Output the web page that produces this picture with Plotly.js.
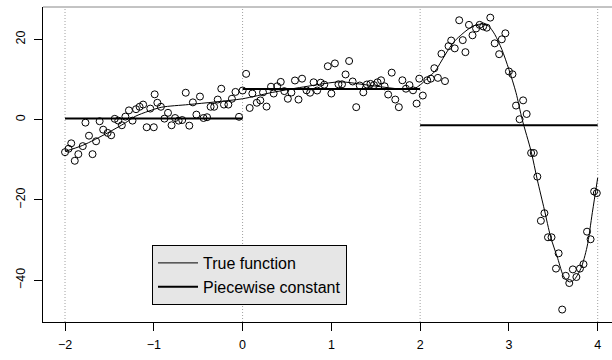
<!DOCTYPE html>
<html><head><meta charset="utf-8">
<script src="https://cdn.plot.ly/plotly-3.0.1.min.js"></script>
<style>html,body{margin:0;padding:0;overflow:hidden;background:#fff}#chart{width:619px;height:360px}</style>
</head><body><div id="chart"></div>
<script>
// Observed points
const obsX = [
 -2.00,-1.96,-1.93,-1.89,-1.85,-1.80,-1.77,-1.73,-1.69,-1.65,-1.61,-1.57,-1.52,-1.48,-1.44,-1.40,-1.36,-1.32,-1.28,-1.24,-1.20,-1.16,-1.12,-1.08,-1.04,-1.00,-0.99,-0.96,-0.92,-0.88,-0.84,-0.80,-0.76,-0.72,-0.68,-0.64,-0.60,-0.56,-0.52,-0.48,-0.44,-0.40,-0.36,-0.32,-0.28,-0.24,-0.21,-0.16,-0.12,-0.08,-0.04,0.00,
 0.04,0.08,0.11,0.16,0.20,0.23,0.27,0.32,0.35,0.39,0.43,0.47,0.51,0.55,0.59,0.63,0.67,0.72,0.76,0.80,0.84,0.88,0.92,0.96,1.00,1.04,1.08,1.12,1.16,1.20,1.24,1.28,1.32,1.36,1.40,1.44,1.48,1.52,1.56,1.60,1.64,1.68,1.72,1.76,1.80,1.84,1.88,1.92,1.96,1.99,2.03,2.08,
 2.12,2.16,2.20,2.24,2.28,2.32,2.35,2.39,2.44,2.48,2.51,2.55,2.59,2.63,2.67,2.71,2.75,2.79,2.84,2.89,2.92,2.96,3.00,3.04,3.08,3.12,3.16,3.20,3.25,3.28,3.32,3.36,3.40,3.44,3.48,3.53,3.56,3.60,3.64,3.68,3.72,3.76,3.80,3.84,3.88,3.92,3.96,3.99
];
const obsY = [
 -8.1,-7.25,-5.9,-10.25,-8.6,-6.6,-0.75,-4,-8.6,-5.4,-0.4,-2.5,-3.3,-3.9,0.2,-0.25,-1.4,0.75,2.3,-0.25,2.6,3.2,3.75,-1.9,2.75,-1.9,6.3,4.2,3.2,0.25,1.7,-1.4,0.4,-0.25,-0.1,6.7,-1.5,4.3,1.25,5.75,0.4,0.6,3.2,3.2,5,7.7,3.75,3.75,5.2,6.9,0.7,7.25,
 11.4,2.9,6.5,4.2,4.8,6.8,3.25,8.2,6.5,8.3,9.4,7.1,5.2,6.75,9.75,5,10.2,7.3,6.7,9.3,7.25,9.2,8.7,13.3,6.5,14,8.8,8.8,11.25,14.6,9.5,3.1,8.5,6.8,8.75,8.9,8.6,9.3,9.8,8.3,6.25,11.7,5,3.1,9.8,7.7,8.6,7.3,4,10.2,6,9.8,
 10.2,12.8,10.4,16.4,9.6,18.3,19.7,17.75,24.75,19.8,16.8,23.6,21,22.7,23.6,23.2,22.9,25.4,19,16.3,20,21.5,12,11.3,3.5,0.1,4.8,1.4,-8.3,-8.3,-14.2,-25.2,-23.3,-29.3,-29.3,-37.1,-33.3,-47.3,-38.9,-40.7,-37.3,-39.2,-37.1,-36,-27.9,-29.8,-17.9,-18.3
];
// True function
const trueX = [-2.00,-1.80,-1.52,-1.32,-1.21,-1.06,-0.91,-0.61,-0.31,0.00,0.34,0.73,1.10,1.36,1.66,1.85,1.95,2.02,2.09,2.17,2.24,2.32,2.39,2.47,2.54,2.62,2.69,2.77,2.84,2.92,3.00,3.08,3.15,3.25,3.32,3.40,3.47,3.55,3.62,3.68,3.73,3.81,3.88,3.94,4.00];
const trueY = [-7.9,-6.4,-3.3,-0.8,0.8,2.1,3.1,3.75,4.4,5.2,6.8,8.3,9.4,8.75,7.9,7.5,7.9,9.0,10.5,12.1,14.6,17.5,19.6,21.25,22.5,23.5,23.8,23.3,21.25,17.5,12.5,6.7,0,-7.9,-15,-22.5,-29.2,-34.6,-39.2,-40.4,-40,-37.1,-31.7,-23.1,-14.5];
// Piecewise constant fit
const breaks = [-2, 0, 2, 4];
const levels = [0.3, 7.6, -1.4];
// Axes
const xTicks = [-2, -1, 0, 1, 2, 3, 4];
const yTicks = [-40, -20, 0, 20];
const guideX = [-2, 0, 2, 4];

const pcX = [], pcY = [];
levels.forEach((v, i) => { pcX.push(breaks[i], breaks[i+1], null); pcY.push(v, v, null); });

const traces = [
  {x: obsX, y: obsY, type:'scatter', mode:'markers', showlegend:false, hoverinfo:'skip',
   marker:{symbol:'circle-open', size:7, color:'#000', line:{width:1, color:'#000'}}},
  {x: trueX, y: trueY, type:'scatter', mode:'lines', name:'True function',
   line:{color:'#000', width:1, shape:'spline', smoothing:0.8}},
  {x: pcX, y: pcY, type:'scatter', mode:'lines', name:'Piecewise constant',
   line:{color:'#000', width:2}, connectgaps:false}
];

const shapes = guideX.map(g => ({type:'line', xref:'x', yref:'paper', x0:g, x1:g, y0:0, y1:1,
  layer:'below', line:{color:'#a0a0a0', width:1, dash:'1px,2px'}}));
shapes.push({type:'line', xref:'paper', yref:'paper', x0:0, x1:1, y0:1, y1:1, line:{color:'#888', width:1}});

const axisCommon = {showgrid:false, zeroline:false, showline:true, linecolor:'#000', linewidth:1,
  ticks:'outside', ticklen:8, tickcolor:'#000', tickwidth:1, mirror:false,
  tickfont:{family:'Liberation Sans, Arial, sans-serif', size:12.5, color:'#000'}};

const layout = {
  width:619, height:360,
  margin:{l:43, r:0, t:7, b:38, pad:0},
  paper_bgcolor:'#fff', plot_bgcolor:'#fff',
  font:{family:'Liberation Sans, Arial, sans-serif', size:12, color:'#000'},
  xaxis: Object.assign({}, axisCommon, {range:[-2.248, 4.24], tickmode:'array', tickvals:xTicks, ticklabelstandoff:3}),
  yaxis: Object.assign({}, axisCommon, {range:[-50.4, 28.05], tickmode:'array', tickvals:yTicks, tickangle:-90, ticklabelstandoff:4}),
  showlegend:true,
  legend:{x:(152-43)/576, y:1-(245-7)/315, xanchor:'left', yanchor:'top', bgcolor:'#e6e6e6',
    bordercolor:'#000', borderwidth:1, font:{size:16, family:'Liberation Sans, Arial, sans-serif', color:'#000'},
    itemwidth:40, traceorder:'normal'},
  shapes: shapes
};
Plotly.newPlot('chart', traces, layout, {staticPlot:true, displayModeBar:false});
</script></body></html>
